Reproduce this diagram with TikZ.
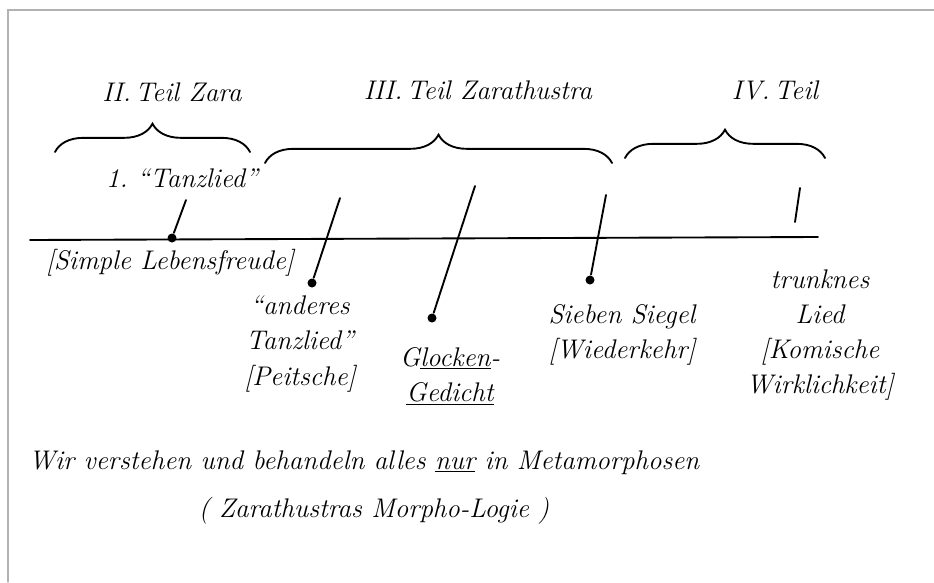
\documentclass[tikz,border=0pt]{standalone}
\usetikzlibrary{decorations.pathreplacing}
\begin{document}
\begin{tikzpicture}[x=0.03cm,y=-0.03cm,every path/.style={line width=1.6pt,line cap=round},
  every node/.style={font=\fontsize{23}{30}\selectfont\itshape,align=center,inner sep=1pt},
  pin/.style={circle,fill,inner sep=0pt,minimum size=0.27cm},
  part/.style={decorate,decoration={brace,amplitude=0.85cm}}]
\useasboundingbox (0,0) rectangle (934,582);
\draw[gray!60,line width=1pt] (8,582) -- (8,10) -- (934,10);

\node (teil2) at (172,92) {II.\,Teil Zara};
\node (teil3) at (478,90) {III.\,Teil Zarathustra};
\node (teil4) at (775,90) {IV.\,Teil};
\draw[part] (55,152) -- (250,152);
\draw[part] (265,163) -- (612,163);
\draw[part] (625,158) -- (825,158);

\coordinate (lstart) at (30,240);
\coordinate (lend) at (818,237);
\draw (lstart) -- (lend);

\node (tanz1) at (182,178) {1.~``Tanzlied''};
\node (simple) at (170,263) {[Simple Lebensfreude]};
\node (anderes) at (300,344) {``anderes\\Tanzlied''\\{[}Peitsche{]}};
\node (glocke) at (450,376) {G\underline{locken}-\\\underline{Gedicht}};
\node (siegel) at (622,335) {Sieben Siegel\\{[}Wiederkehr{]}};
\node (trunk) at (820,335) {trunknes\\Lied\\{[}Komische\\Wirklichkeit{]}};
\node (meta) at (364,463) {Wir verstehen und behandeln alles \underline{nur} in Metamorphosen};
\node (morpho) at (374,511) {( Zarathustras Morpho-Logie )};

\node[pin] (d1) at (172,238) {};
\node[pin] (d2) at (312,283) {};
\node[pin] (d3) at (432,318) {};
\node[pin] (d4) at (590,280) {};
\coordinate (t1) at (186,200);
\coordinate (t2) at (340,198);
\coordinate (t3) at (475,186);
\coordinate (t4) at (606,195);
\coordinate (t5) at (800,188);
\coordinate (b5) at (795,222);

\draw (t1) -- (d1);
\draw (t2) -- (d2);
\draw (t3) -- (d3);
\draw (t4) -- (d4);
\draw (t5) -- (b5);
\end{tikzpicture}
\end{document}
